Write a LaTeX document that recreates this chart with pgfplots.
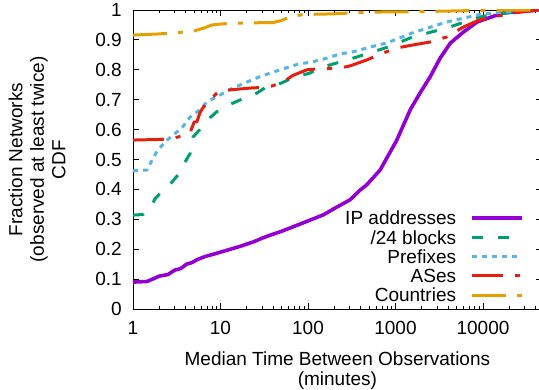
\documentclass[border=0pt]{standalone}
\usepackage{pgfplots}
\pgfplotsset{compat=1.18}
\usepackage{fontspec}
\setmainfont{Liberation Sans}
\newcommand{\gfont}{\fontsize{19}{21.5}\selectfont}
\newcommand{\xfont}{\fontsize{19}{20.5}\selectfont}
\definecolor{cIP}{HTML}{9400D3}
\definecolor{cBL}{HTML}{009E73}
\definecolor{cPF}{HTML}{56B4E9}
\definecolor{cAS}{HTML}{E51E10}
\definecolor{cCO}{HTML}{E69F00}
\begin{document}
\begin{tikzpicture}
\begin{axis}[
  at={(133pt,81pt)}, anchor=south west,
  width=408.8pt, height=299pt, scale only axis,
  xmode=log, xmin=1, xmax=47000, ymin=0, ymax=1,
  xtick={1,10,100,1000,10000}, xticklabels={1,10,100,1000,10000},
  minor xtick={2,3,4,5,6,7,8,9,20,30,40,50,60,70,80,90,200,300,400,500,600,700,800,900,2000,3000,4000,5000,6000,7000,8000,9000,20000,30000,40000},
  ytick={0,0.1,0.2,0.3,0.4,0.5,0.6,0.7,0.8,0.9,1},
  yticklabels={0,0.1,0.2,0.3,0.4,0.5,0.6,0.7,0.8,0.9,1},
  tick align=inside, major tick length=6pt, minor tick length=3pt,
  tick style={black, line width=0.8pt},
  axis line style={line width=0.9pt},
  tick label style={font=\gfont, inner sep=0pt},
  x tick label style={yshift=-12pt},
  y tick label style={xshift=-11pt},
  xlabel={Median Time Between Observations\\(minutes)},
  xlabel style={align=center, font=\xfont, inner sep=0pt, at={(axis description cs:0.5,-0.1415)}, anchor=north},
  ylabel={Fraction Networks\\(observed at least twice)\\CDF},
  ylabel style={align=center, font=\gfont, inner sep=0pt, at={(axis description cs:-0.2348,0.5)}, anchor=center},
  legend plot pos=right,
  legend image code/.code={\draw[#1] (0pt,0pt) -- (50pt,0pt);},
  legend style={draw=none, fill=none, font=\gfont, at={(axis description cs:0.9636,0.007)}, anchor=south east, row sep=0pt, column sep=14pt, nodes={inner sep=0pt, text height=16.3pt, text depth=2.95pt}, cells={anchor=east}},
  every axis plot/.append style={line join=round},
]
\addplot[cIP, line width=3.6pt] coordinates {
(1,0.09) (1.45,0.092) (2.0,0.11) (2.5,0.115) (3.0,0.13) (3.5,0.135) (4.1,0.15) (4.7,0.155) (5.4,0.165) (6.6,0.175) (8.7,0.185) (12,0.197) (17,0.21) (24,0.225) (30,0.237) (37,0.247) (50,0.26) (88,0.288) (150,0.315) (214,0.341) (302,0.365) (395,0.398) (468,0.415) (668,0.465) (1036,0.565) (1472,0.666) (1905,0.722) (2484,0.776) (3238,0.839) (4224,0.889) (5960,0.926) (8580,0.96) (16900,0.99) (43200,1.0)
};
\addlegendentry{IP addresses}
\addplot[cBL, line width=3pt, dash pattern=on 11pt off 15pt] coordinates {
(1,0.314) (1.3,0.316) (1.6,0.34) (1.8,0.37) (2.1,0.39) (2.8,0.425) (3.3,0.45) (3.9,0.49) (4.5,0.52) (4.85,0.575) (5.8,0.60) (7.6,0.64) (9.1,0.66) (13,0.685) (17,0.70) (26,0.722) (32,0.739) (50,0.756) (66,0.773) (105,0.789) (130,0.803) (163,0.813) (232,0.826) (364,0.843) (552,0.86) (800,0.875) (1580,0.91) (3870,0.94) (9150,0.977) (22000,0.993) (43200,1)
};
\addlegendentry{/24 blocks}
\addplot[cPF, line width=3pt, dash pattern=on 5pt off 5pt] coordinates {
(1,0.462) (1.45,0.465) (1.6,0.49) (1.9,0.53) (2.45,0.565) (2.9,0.582) (3.7,0.609) (4.5,0.642) (5.8,0.666) (7.0,0.693) (9.9,0.716) (13.9,0.739) (19,0.756) (26,0.773) (37,0.789) (52,0.803) (77,0.819) (111,0.826) (165,0.839) (232,0.853) (327,0.86) (512,0.876) (800,0.89) (1580,0.924) (3870,0.96) (9150,0.985) (20000,0.995) (43200,1)
};
\addlegendentry{Prefixes}
\addplot[cAS, line width=3pt, dash pattern=on 31pt off 12pt on 5pt off 12pt] coordinates {
(1,0.565) (2,0.567) (3,0.57) (3.2,0.575) (3.7,0.578) (4.5,0.59) (4.7,0.605) (5.0,0.625) (5.4,0.627) (5.8,0.655) (6.2,0.67) (7,0.689) (8.2,0.709) (9.1,0.722) (10,0.73) (12,0.732) (22,0.739) (30,0.741) (39,0.746) (52,0.759) (67,0.781) (97,0.80) (130,0.803) (232,0.806) (302,0.813) (470,0.833) (720,0.856) (1036,0.873) (1580,0.883) (2484,0.893) (3870,0.91) (5960,0.943) (9150,0.967) (22000,0.99) (43200,1)
};
\addlegendentry{ASes}
\addplot[cCO, line width=3pt, dash pattern=on 34pt off 11pt on 5pt off 11pt] coordinates {
(1,0.916) (2,0.92) (3.7,0.926) (5,0.93) (6.5,0.94) (8,0.95) (12,0.955) (22,0.957) (40,0.958) (50,0.965) (62,0.977) (88,0.985) (193,0.987) (302,0.99) (500,0.993) (1500,0.994) (5000,0.997) (10000,0.999) (43200,1)
};
\addlegendentry{Countries}
\end{axis}
\pgfresetboundingbox
\useasboundingbox (0,0) rectangle (539pt,390pt);
\end{tikzpicture}
\end{document}
